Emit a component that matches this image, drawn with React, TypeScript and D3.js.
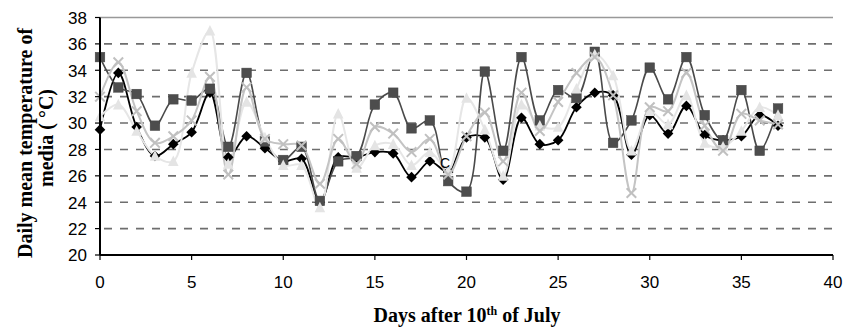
import React from "react";
import * as d3 from "d3";

// days 0..37
const days = d3.range(0, 38);

// black diamonds
const diamondVals = [
  29.5, 33.8, 29.7, 27.5, 28.4, 29.3, 32.3, 27.4, 29.0, 28.1,
  27.1, 27.3, 24.0, 27.4, 27.4, 27.8, 27.7, 25.9, 27.1, 26.3,
  28.9, 28.9, 25.7, 30.4, 28.4, 28.7, 31.2, 32.3, 32.1, 27.6,
  30.6, 29.2, 31.3, 29.1, 28.7, 29.0, 30.6, 29.8,
];
// dark grey squares
const squareVals = [
  35.0, 32.7, 32.2, 29.8, 31.8, 31.7, 32.6, 28.2, 33.8, 28.6,
  27.2, 28.2, 24.1, 27.1, 27.5, 31.4, 32.3, 29.6, 30.2, 25.6,
  24.8, 33.9, 27.9, 35.0, 30.2, 32.5, 31.9, 35.4, 28.5, 30.2,
  34.2, 31.8, 35.0, 30.6, 28.7, 32.5, 27.9, 31.1,
];
// light grey triangles
const triangleVals = [
  30.5, 31.4, 29.4, 27.5, 27.1, 33.8, 37.0, 26.9, 31.6, 28.9,
  26.8, 26.8, 23.6, 30.7, 26.6, 28.3, 28.4, 26.8, 27.8, 26.4,
  31.9, 29.5, 26.0, 31.4, 29.8, 29.7, 32.6, 35.2, 33.6, 27.9,
  30.9, 29.9, 32.1, 28.5, 28.2, 29.4, 31.2, 30.6,
];
// grey crosses
const crossVals = [
  32.0, 34.6, 30.9, 28.5, 29.0, 30.2, 33.5, 26.1, 32.7, 28.8,
  28.4, 28.3, 25.4, 28.8, 26.9, 29.7, 29.2, 27.8, 28.8, 26.1,
  29.0, 30.8, 27.1, 32.3, 29.4, 31.6, 33.8, 35.0, 32.1, 24.7,
  31.2, 30.9, 33.8, 29.8, 27.9, 30.7, 30.2, 29.9,
];

const xTicks = [0, 5, 10, 15, 20, 25, 30, 35, 40];
const yTicks = [20, 22, 24, 26, 28, 30, 32, 34, 36, 38];

const W = 843;
const H = 329;
const left = 100;
const right = 833;
const top = 17.5;
const bottom = 255;

export default function App() {
  const x = d3.scaleLinear().domain([0, 40]).range([left, right]);
  const y = d3.scaleLinear().domain([20, 38]).range([bottom, top]);

  const line = d3
    .line<number>()
    .x((_, i) => x(days[i]))
    .y((d) => y(d))
    .curve(d3.curveCatmullRom.alpha(0.5));

  const numFont = "Liberation Sans, Arial, sans-serif";
  const titleFont = "Liberation Serif, Times New Roman, serif";

  const ms = 4.8; // half marker size

  return (
    <svg
      width={W}
      height={H}
      style={{ position: "absolute", left: 0, top: 0, background: "#fff" }}
    >
      {/* grid lines */}
      {yTicks
        .filter((t) => t > 20 && t < 38)
        .map((t) => (
          <line
            key={"g" + t}
            x1={left}
            x2={right}
            y1={y(t)}
            y2={y(t)}
            stroke="#6e6e6e"
            strokeWidth={1.6}
            strokeDasharray="8,8"
            strokeDashoffset={-4}
          />
        ))}
      {/* top border */}
      <line x1={left} x2={right} y1={top} y2={top} stroke="#999" strokeWidth={1.5} />

      {/* series lines */}
      <path d={line(diamondVals) || ""} fill="none" stroke="#000" strokeWidth={1.8} />
      <path d={line(squareVals) || ""} fill="none" stroke="#4a4a4a" strokeWidth={1.6} />
      <path d={line(triangleVals) || ""} fill="none" stroke="#e6e6e6" strokeWidth={2} />
      <path d={line(crossVals) || ""} fill="none" stroke="#c4c4c4" strokeWidth={2} />

      {/* markers */}
      {diamondVals.map((v, i) => {
        const cx = x(days[i]);
        const cy = y(v);
        return (
          <path
            key={"d" + i}
            d={`M${cx},${cy - ms - 0.5}L${cx + ms + 0.5},${cy}L${cx},${cy + ms + 0.5}L${cx - ms - 0.5},${cy}Z`}
            fill="#000"
          />
        );
      })}
      {squareVals.map((v, i) => (
        <rect
          key={"s" + i}
          x={x(days[i]) - ms}
          y={y(v) - ms}
          width={ms * 2}
          height={ms * 2}
          fill="#4d4d4d"
          stroke="#444"
          strokeWidth={0.5}
        />
      ))}
      {triangleVals.map((v, i) => {
        const cx = x(days[i]);
        const cy = y(v);
        return (
          <path
            key={"t" + i}
            d={`M${cx},${cy - ms - 1}L${cx + ms + 0.5},${cy + ms}L${cx - ms - 0.5},${cy + ms}Z`}
            fill="#e4e4e4"
          />
        );
      })}
      {crossVals.map((v, i) => {
        const cx = x(days[i]);
        const cy = y(v);
        return (
          <path
            key={"x" + i}
            d={`M${cx - ms},${cy - ms}L${cx + ms},${cy + ms}M${cx + ms},${cy - ms}L${cx - ms},${cy + ms}`}
            stroke="#c0c0c0"
            strokeWidth={2}
          />
        );
      })}

      {/* stray label inside plot */}
      <text x={445} y={168} fontFamily={numFont} fontSize={14} textAnchor="middle" fill="#000">
        C
      </text>

      {/* y axis */}
      <line x1={left} x2={left} y1={top} y2={bottom} stroke="#000" strokeWidth={2} />
      {yTicks.map((t) => (
        <g key={"yt" + t}>
          <line x1={left - 5} x2={left} y1={y(t)} y2={y(t)} stroke="#000" strokeWidth={1.2} />
          <text
            x={87}
            y={y(t) + 6.3}
            textAnchor="end"
            fontFamily={numFont}
            fontSize={17}
            fill="#000"
          >
            {t}
          </text>
        </g>
      ))}

      {/* x axis */}
      <line x1={left} x2={right} y1={bottom} y2={bottom} stroke="#000" strokeWidth={2} />
      {xTicks.map((t) => (
        <g key={"xt" + t}>
          <line x1={x(t)} x2={x(t)} y1={bottom} y2={bottom + 5} stroke="#000" strokeWidth={1.2} />
          <text
            x={x(t)}
            y={288}
            textAnchor="middle"
            fontFamily={numFont}
            fontSize={17}
            fill="#000"
          >
            {t}
          </text>
        </g>
      ))}

      {/* axis titles */}
      <text
        x={467}
        y={322}
        textAnchor="middle"
        fontFamily={titleFont}
        fontWeight="bold"
        fontSize={20}
        fill="#000"
      >
        Days after 10
        <tspan fontSize={12} dy={-7}>th</tspan>
        <tspan dy={7}> of July</tspan>
      </text>
      <g transform="translate(31.5,143) rotate(-90)">
        <text
          x={0}
          y={0}
          textAnchor="middle"
          fontFamily={titleFont}
          fontWeight="bold"
          fontSize={20}
          fill="#000"
        >
          Daily mean temperature of
        </text>
      </g>
      <g transform="translate(52.5,138) rotate(-90)">
        <text
          x={0}
          y={0}
          textAnchor="middle"
          fontFamily={titleFont}
          fontWeight="bold"
          fontSize={20}
          fill="#000"
        >
          media ( °C)
        </text>
      </g>
    </svg>
  );
}
